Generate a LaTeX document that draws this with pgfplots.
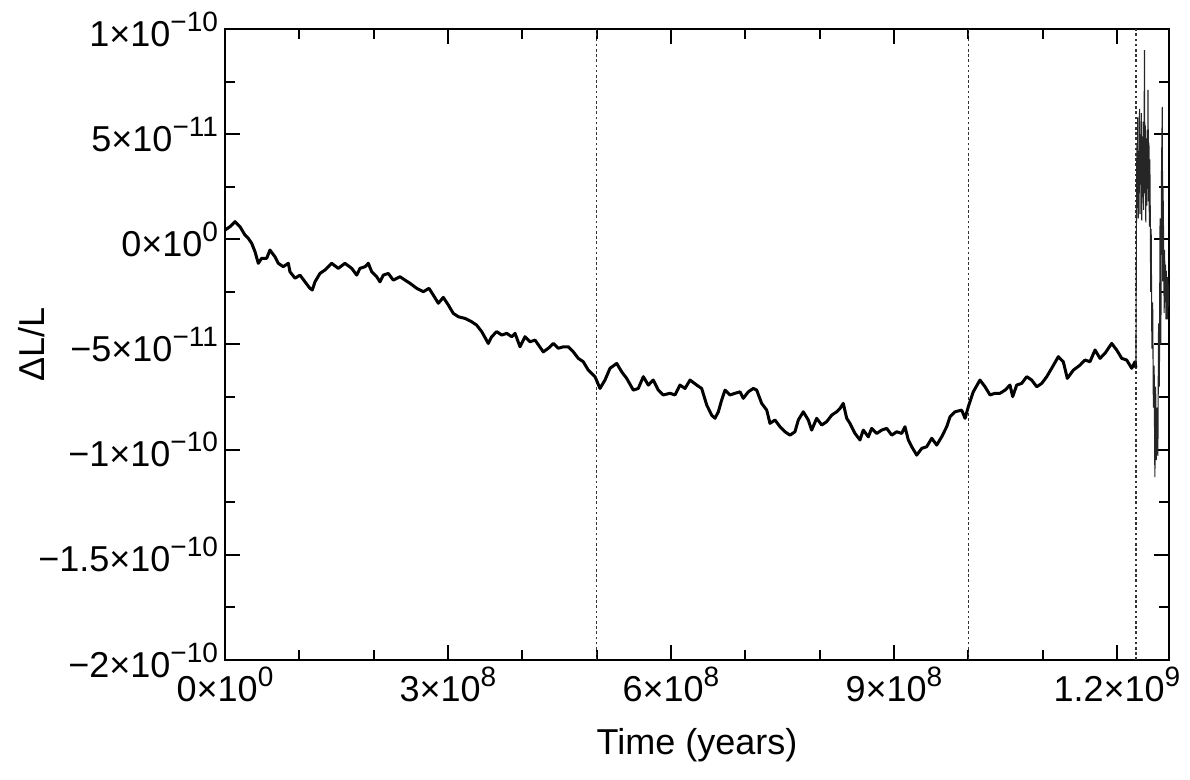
\documentclass[border=0pt]{standalone}
\usepackage{fontspec}
\setmainfont{Liberation Sans}
\usepackage{pgfplots}
\pgfplotsset{compat=1.18}
\newcommand\sups[1]{\raisebox{0.42em}{\fontsize{14}{15}\selectfont #1}}

% time in units of 1e8 yr, dL/L in units of 1e-11
\pgfplotstableread{
t v
0 0.44
0.067 0.60
0.135 0.84
0.202 0.60
0.269 0.20
0.313 0.05
0.359 -0.19
0.404 -0.59
0.448 -1.14
0.494 -0.90
0.561 -0.90
0.605 -0.51
0.673 -0.83
0.717 -1.14
0.784 -1.30
0.852 -1.14
0.874 -1.54
0.942 -1.85
1.009 -1.70
1.076 -2.02
1.143 -2.33
1.175 -2.41
1.211 -2.02
1.278 -1.62
1.345 -1.46
1.435 -1.14
1.524 -1.38
1.614 -1.14
1.705 -1.38
1.772 -1.70
1.816 -1.38
1.884 -1.30
1.928 -1.14
1.974 -1.54
2.041 -1.78
2.085 -2.02
2.130 -1.70
2.197 -1.62
2.264 -1.94
2.354 -1.78
2.422 -1.94
2.489 -2.09
2.579 -2.33
2.668 -2.49
2.745 -2.33
2.802 -2.65
2.870 -3.04
2.937 -2.76
3.004 -3.12
3.071 -3.52
3.139 -3.68
3.229 -3.76
3.319 -3.92
3.386 -4.08
3.454 -4.39
3.542 -4.95
3.588 -4.63
3.655 -4.39
3.723 -4.55
3.790 -4.47
3.857 -4.63
3.902 -4.47
3.969 -5.11
4.036 -4.63
4.103 -4.87
4.171 -4.79
4.282 -5.35
4.350 -5.18
4.417 -4.95
4.484 -5.18
4.551 -5.11
4.619 -5.11
4.686 -5.35
4.753 -5.66
4.820 -5.82
4.888 -6.22
4.978 -6.53
5.045 -7.09
5.112 -6.69
5.180 -6.13
5.270 -5.90
5.337 -6.30
5.404 -6.61
5.493 -7.17
5.560 -7.09
5.628 -6.53
5.695 -6.93
5.762 -6.69
5.829 -7.17
5.897 -7.40
5.987 -7.32
6.054 -7.40
6.121 -6.93
6.189 -7.09
6.256 -6.69
6.346 -6.93
6.413 -7.09
6.481 -7.88
6.548 -8.36
6.592 -8.51
6.637 -8.20
6.682 -7.64
6.727 -7.17
6.794 -7.40
6.861 -7.32
6.929 -7.25
6.973 -7.56
7.040 -7.25
7.108 -7.09
7.153 -7.17
7.220 -7.80
7.288 -8.12
7.332 -8.75
7.399 -8.59
7.467 -8.91
7.534 -9.15
7.601 -9.31
7.668 -9.15
7.713 -8.59
7.780 -8.20
7.847 -8.59
7.893 -9.07
7.960 -8.51
8.028 -8.83
8.095 -8.67
8.162 -8.36
8.229 -8.20
8.274 -8.04
8.318 -7.80
8.364 -8.51
8.408 -8.75
8.476 -9.23
8.543 -9.54
8.587 -9.07
8.655 -9.39
8.700 -8.99
8.768 -9.23
8.835 -9.07
8.902 -8.99
8.970 -9.31
9.037 -9.15
9.104 -9.23
9.148 -8.91
9.193 -9.54
9.239 -9.86
9.306 -10.26
9.373 -9.94
9.440 -9.86
9.508 -9.46
9.575 -9.78
9.642 -9.39
9.709 -8.91
9.754 -8.44
9.821 -8.20
9.911 -8.12
9.956 -8.51
10.000 -7.96
10.067 -7.25
10.157 -6.69
10.225 -7.01
10.292 -7.40
10.359 -7.32
10.427 -7.32
10.494 -7.17
10.561 -6.93
10.597 -7.48
10.651 -6.93
10.718 -6.85
10.786 -6.53
10.853 -6.69
10.920 -7.01
10.988 -6.85
11.055 -6.53
11.122 -6.13
11.211 -5.58
11.278 -5.82
11.332 -6.61
11.413 -6.22
11.503 -5.98
11.570 -5.74
11.637 -5.82
11.705 -5.26
11.772 -5.66
11.839 -5.42
11.929 -4.95
11.996 -5.26
12.064 -5.66
12.131 -5.74
12.198 -6.13
12.243 -5.82
12.255 -6.10
}\mainrun

\pgfplotstableread{
t v
12.255 -6.1
12.262 0.8
12.268 4.5
12.274 1.5
12.280 5.8
12.286 1.0
12.292 4.2
12.298 2.2
12.304 6.2
12.310 1.2
12.316 5.0
12.322 2.6
12.328 6.0
12.334 0.9
12.340 4.6
12.346 2.0
12.352 5.6
12.358 1.4
12.364 4.0
12.370 9.0
12.376 2.2
12.382 5.4
12.388 0.8
12.394 4.8
12.400 1.6
12.406 5.2
12.412 2.4
12.418 7.1
12.424 1.8
12.430 4.6
12.436 0.6
12.442 3.8
12.448 1.2
12.454 -2.5
12.46 0.5
12.47 -5.2
12.48 -3.0
12.49 -8.0
12.50 -6.0
12.51 -11.3
12.52 -7.0
12.53 -10.5
12.54 -8.0
12.55 -10.3
12.56 -4.0
12.57 -7.0
12.58 1.0
12.59 -5.0
12.60 3.5
12.61 6.3
12.615 -2.0
12.62 2.5
12.63 -1.0
12.635 -3.5
12.64 -0.5
12.65 -3.0
12.655 -1.2
12.66 -3.8
12.665 -1.5
12.67 -3.6
12.675 -2.0
12.68 -3.8
12.685 -1.8
12.69 -3.2
12.695 -2.2
12.70 -3.0
}\lastrun

\begin{document}
\begin{tikzpicture}
\useasboundingbox (-112.5pt,-60pt) rectangle (482.5pt,330pt);
\begin{axis}[
  at={(0,0)}, anchor=south west,
  scale only axis, width=472pt, height=315.5pt,
  xmin=0, xmax=12.70, ymin=-20, ymax=10,
  font=\fontsize{18}{21}\selectfont,
  axis line style={line width=1.2pt},
  tick style={line width=1pt, black},
  tick align=inside,
  major tick length=7.5pt, minor tick length=5pt,
  xtick={0,3,6,9,12}, minor xtick={1,2,4,5,7,8,10,11},
  ytick={-20,-15,...,10}, minor ytick={-17.5,-12.5,...,7.5},
  xticklabels={0×10\sups{0},3×10\sups{8},6×10\sups{8},9×10\sups{8},1.2×10\sups{9}},
  yticklabels={−2×10\sups{−10},−1.5×10\sups{−10},−1×10\sups{−10},−5×10\sups{−11},0×10\sups{0},5×10\sups{−11},1×10\sups{−10}},
  xlabel={Time (years)}, ylabel={ΔL/L},
  xlabel style={at={(axis description cs:0.5,-0.135)}, anchor=center},
  ylabel style={at={(axis description cs:-0.205,0.5)}, anchor=center},
]
\addplot[black!80, line width=0.6pt, dash pattern=on 1.3pt off 1.3pt] coordinates {(5,-20) (5,10)};
\addplot[black!80, line width=0.6pt, dash pattern=on 1.3pt off 1.3pt] coordinates {(10,-20) (10,10)};
\addplot[black!80, line width=0.6pt, dash pattern=on 1.3pt off 1.3pt] coordinates {(12.256,-20) (12.256,10)};
\addplot[black, line width=1.5pt, line join=round] table[x=t, y=v] {\mainrun};
\addplot[black!85, line width=0.55pt] table[x=t, y=v] {\lastrun};
\end{axis}
\end{tikzpicture}
\end{document}
